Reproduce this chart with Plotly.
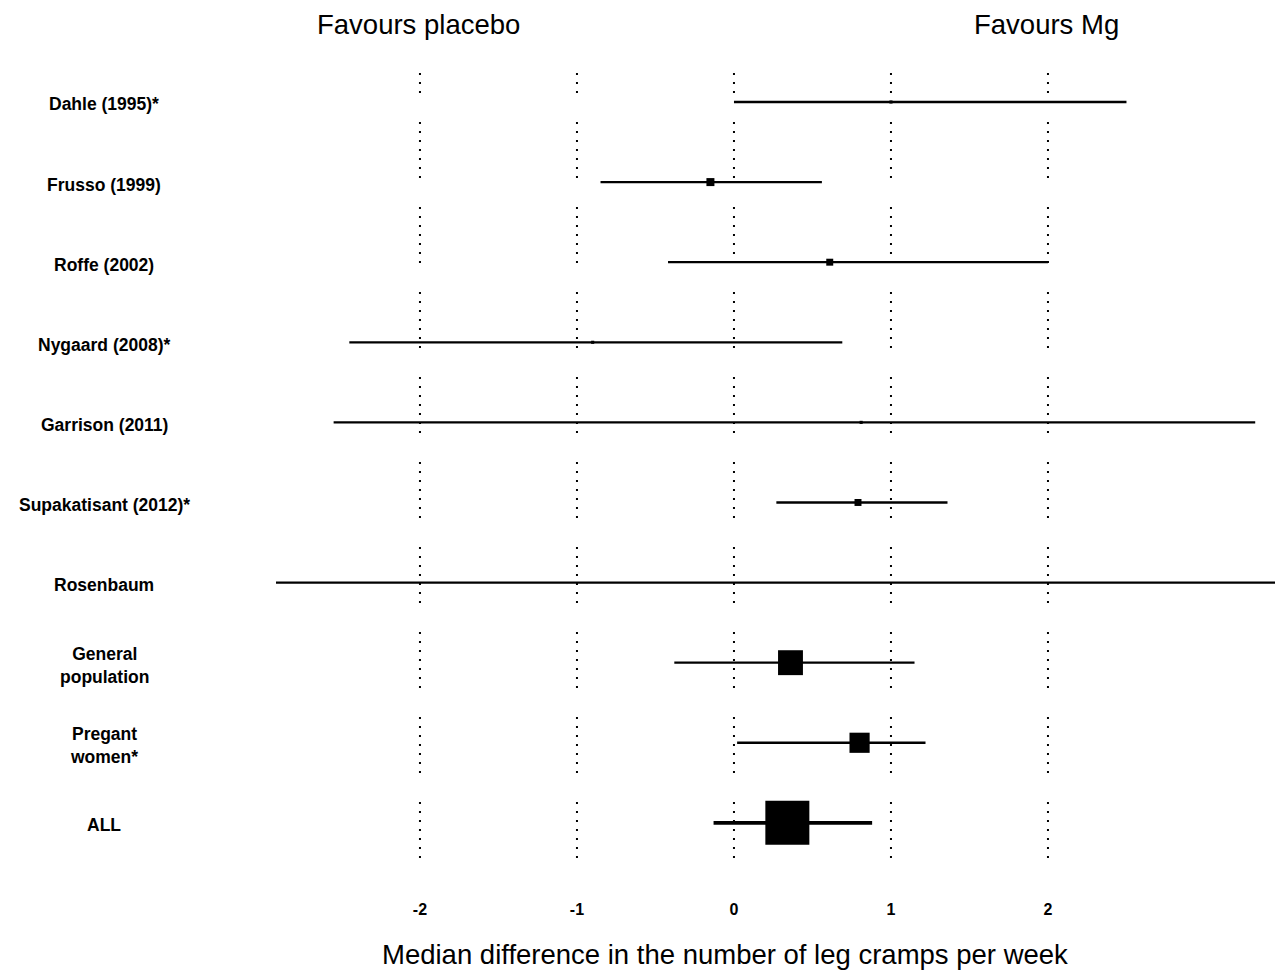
import plotly.graph_objects as go

# ---- data ----
studies = ["Dahle (1995)*", "Frusso (1999)", "Roffe (2002)", "Nygaard (2008)*",
           "Garrison (2011)", "Supakatisant (2012)*", "Rosenbaum",
           "General<br>population", "Pregant<br>women*", "ALL"]
estimate = [1.00, -0.15, 0.61, -0.90, 0.81, 0.79, None, 0.36, 0.80, 0.34]
ci_low = [0.00, -0.85, -0.42, -2.45, -2.55, 0.27, -3.20, -0.38, 0.02, -0.13]
ci_high = [2.50, 0.56, 2.00, 0.69, 3.32, 1.36, 3.80, 1.15, 1.22, 0.88]
weights = [0.5, 3.3, 2.5, 0.5, 0.5, 2.5, 0.0, 32.0, 21.0, 100.0]
tick_vals = [-2, -1, 0, 1, 2]
tick_text = ["-2", "-1", "0", "1", "2"]
ref_lines = [-2, -1, 0, 1, 2]

rows = list(range(len(studies)))
font = "Liberation Sans, Arial"

fig = go.Figure()

# dotted reference lines (one trace each)
dot_pattern = ",".join(["2px,7px"] * 6 + ["2px,29px"])
for xv in ref_lines:
    fig.add_trace(go.Scatter(
        x=[xv, xv], y=[-0.8115, 9.438], mode="lines",
        line=dict(color="black", width=2, dash=dot_pattern),
        hoverinfo="skip", showlegend=False))

# confidence intervals
n = len(studies)
lx, ly = [], []
for i in range(n - 1):
    lx += [ci_low[i], ci_high[i], None]
    ly += [rows[i], rows[i], None]
fig.add_trace(go.Scatter(x=lx, y=ly, mode="lines",
                         line=dict(color="black", width=2.3),
                         hoverinfo="skip", showlegend=False))
fig.add_trace(go.Scatter(x=[ci_low[-1], ci_high[-1]], y=[rows[-1], rows[-1]],
                         mode="lines", line=dict(color="black", width=3.6),
                         hoverinfo="skip", showlegend=False))

# point estimates (square size from weight)
mx, my, ms = [], [], []
for i in range(n):
    if estimate[i] is not None and weights[i] > 0:
        mx.append(estimate[i])
        my.append(rows[i])
        ms.append(max(3, 44 * (weights[i] / 100) ** 0.5))
fig.add_trace(go.Scatter(x=mx, y=my, mode="markers",
                         marker=dict(symbol="square", size=ms, color="black",
                                     opacity=1, line=dict(width=0)),
                         showlegend=False))

annotations = []
for i, s in enumerate(studies):
    annotations.append(dict(text="<b>" + s + "</b>", xref="paper", yref="y",
                            x=-0.1708, y=rows[i] + 0.03,
                            xanchor="center", yanchor="middle", showarrow=False,
                            font=dict(family=font, size=17.5, color="black")))
annotations.append(dict(text="Favours placebo", xref="x", yref="paper", x=-2.01, y=1.057,
                        xanchor="center", yanchor="middle", showarrow=False,
                        font=dict(family=font, size=27.5, color="black")))
annotations.append(dict(text="Favours Mg", xref="x", yref="paper", x=1.99, y=1.057,
                        xanchor="center", yanchor="middle", showarrow=False,
                        font=dict(family=font, size=27.5, color="black")))
annotations.append(dict(text="Median difference in the number of leg cramps per week",
                        xref="x", yref="paper", x=-0.06, y=-0.069,
                        xanchor="center", yanchor="middle", showarrow=False,
                        font=dict(family=font, size=27.5, color="black")))

fig.update_layout(
    width=1275, height=963,
    margin=dict(l=268, r=0, t=64, b=73),
    paper_bgcolor="white", plot_bgcolor="white",
    annotations=annotations,
    xaxis=dict(range=[-2.917, 3.497], tickvals=tick_vals,
               ticktext=["<b>" + t + "</b>" for t in tick_text],
               showgrid=False, zeroline=False, showline=False, ticks="",
               tickfont=dict(family=font, size=16, color="black")),
    yaxis=dict(range=[9.938, -0.3745], showgrid=False, zeroline=False,
               showline=False, showticklabels=False, ticks=""),
)

fig.write_html("out.html")
